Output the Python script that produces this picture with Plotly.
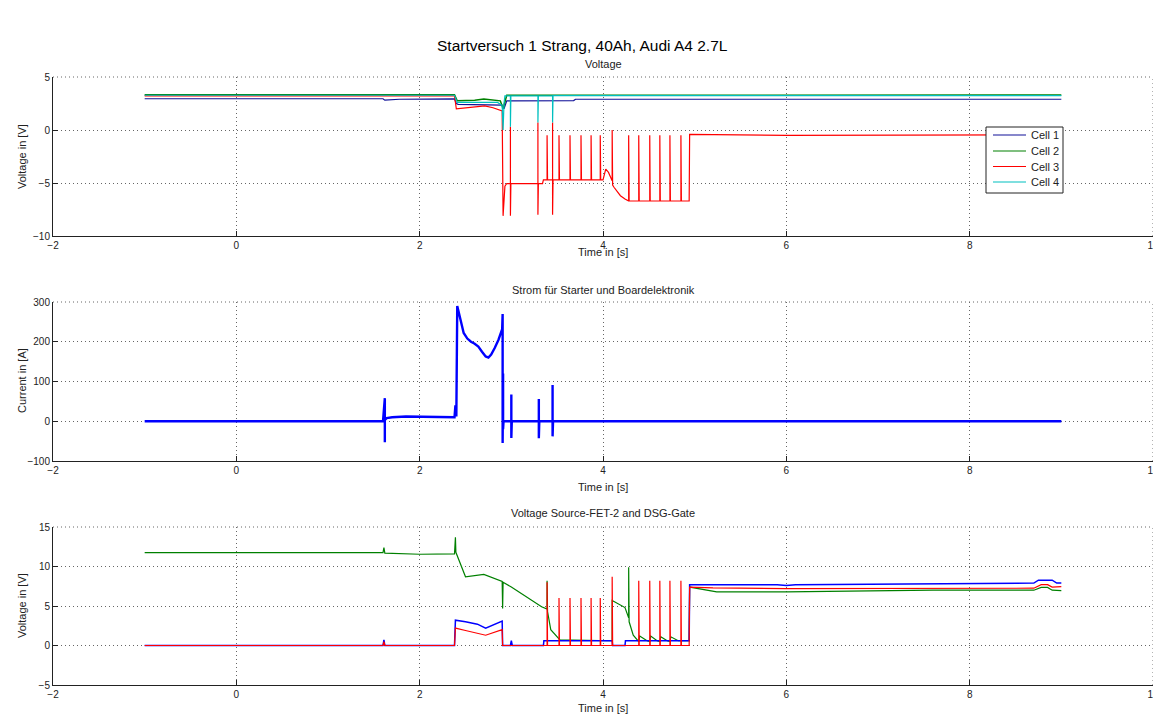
import plotly.graph_objects as go

# ---------------- data: top (Voltage of cells) ----------------
t_cell1 = [-1.0, 1.60, 1.62, 1.78, 2.38, 2.40, 2.42, 2.70, 2.90, 2.92, 2.95, 3.68, 3.70, 9.0]
v_cell1 = [2.95, 2.95, 2.82, 2.90, 2.93, 2.50, 2.42, 2.40, 2.35, 2.00, 2.75, 2.78, 2.90, 2.90]

t_cell2 = [-1.0, 2.38, 2.41, 2.60, 2.70, 2.88, 2.91, 2.95, 9.0]
v_cell2 = [3.33, 3.33, 2.75, 2.80, 2.92, 2.75, 2.00, 3.27, 3.30]

t_cell3 = [-1.0, 2.38, 2.40, 2.55, 2.71, 2.80, 2.90, 2.91, 2.915, 2.93, 2.95,
           2.99, 2.99, 2.99, 2.995, 3.29, 3.29, 3.29, 3.295, 3.34, 3.35,
           3.39, 3.39, 3.395, 3.45, 3.45, 3.45, 3.455, 3.52, 3.52, 3.525,
           3.64, 3.64, 3.645, 3.76, 3.76, 3.765, 3.87, 3.87, 3.875, 3.97, 3.97, 3.975,
           4.00, 4.03, 4.06, 4.10, 4.10, 4.105, 4.12, 4.19, 4.24, 4.28, 4.28, 4.285,
           4.39, 4.39, 4.395, 4.51, 4.51, 4.515, 4.62, 4.62, 4.625, 4.73, 4.73, 4.735,
           4.85, 4.85, 4.855, 4.94, 4.945, 6.0, 9.0]
v_cell3 = [3.22, 3.22, 2.00, 2.10, 2.27, 2.10, 1.80, -8.10, -7.00, -5.30, -5.05,
           -5.05, 0.30, -8.10, -5.05, -5.05, 0.70, -8.00, -5.05, -5.05, -4.70,
           -4.70, -0.50, -4.70, -4.70, 0.70, -8.00, -4.70, -4.70, -0.50, -4.70,
           -4.70, -0.50, -4.70, -4.70, -0.50, -4.70, -4.70, -0.50, -4.70, -4.70, -0.50, -4.70,
           -4.70, -3.70, -4.00, -4.80, 0.00, -5.20, -5.40, -6.20, -6.50, -6.70, -0.50, -6.70,
           -6.70, -0.50, -6.70, -6.70, -0.50, -6.70, -6.70, -0.50, -6.70, -6.70, -0.50, -6.70,
           -6.70, -0.50, -6.70, -6.70, -0.42, -0.50, -0.45]

t_cell4 = [-1.0, 2.38, 2.41, 2.85, 2.90, 2.91, 2.92, 2.93, 2.99, 2.99, 2.995,
           3.29, 3.29, 3.295, 3.45, 3.45, 3.455, 9.0]
v_cell4 = [3.28, 3.28, 2.60, 2.60, 2.30, 0.00, 2.50, 3.22, 3.22, 0.30, 3.22,
           3.22, 0.70, 3.22, 3.22, 0.70, 3.24, 3.24]

# ---------------- data: middle (current) ----------------
t_curr = [-1.0, 1.60, 1.62, 1.62, 1.62, 1.64, 1.70, 1.85, 2.38, 2.39, 2.40, 2.41,
          2.42, 2.44, 2.46, 2.48, 2.52, 2.56, 2.60, 2.64, 2.68, 2.72, 2.75, 2.78,
          2.82, 2.86, 2.90, 2.905, 2.905, 2.91, 2.91,
          2.915, 3.00, 3.00, 3.00, 3.005, 3.30, 3.30, 3.30, 3.305, 3.45, 3.45, 3.45,
          3.455, 9.0]
i_curr = [0, 0, 58, -53, 3, 8, 10, 12, 10, 40, 12, 290,
          280, 255, 235, 222, 208, 200, 195, 188, 175, 163, 160, 168,
          185, 205, 232, 270, -55, 120, -20,
          0, 0, 67, -42, 0, 0, 56, -43, 0, 0, 91, -38,
          0, 0]

# ---------------- data: bottom (Source-FET-2 / DSG-Gate) ----------------
t_green = [-1.0, 1.60, 1.61, 1.62, 2.00, 2.38, 2.39, 2.395, 2.50, 2.70, 2.90, 2.905,
           2.91, 3.00, 3.33, 3.39, 3.39, 3.395, 3.43, 3.53, 4.10, 4.10, 4.24, 4.28,
           4.28, 4.285, 4.33, 4.39, 4.40, 4.48, 4.51, 4.52, 4.59, 4.62, 4.63, 4.70,
           4.73, 4.74, 4.82, 4.94, 4.945, 5.24, 6.0, 7.6, 8.7, 8.78, 8.85, 8.9, 9.0]
v_green = [11.75, 11.75, 12.4, 11.7, 11.55, 11.6, 13.7, 11.8, 8.7, 9.0, 8.1, 4.7,
           8.0, 7.4, 4.9, 4.6, 8.2, 4.3, 2.0, 0.7, 0.6, 5.7, 4.8, 3.5,
           9.9, 3.0, 1.3, 0.5, 1.2, 0.6, 0.5, 1.2, 0.6, 0.5, 1.1, 0.6,
           0.5, 1.1, 0.6, 0.6, 7.4, 6.8, 6.8, 7.0, 7.0, 7.35, 7.35, 7.0, 6.95]

t_blue = [-1.0, 1.60, 1.61, 1.62, 2.38, 2.39, 2.50, 2.63, 2.72, 2.90, 2.905, 2.99,
          3.00, 3.01, 3.35, 3.355, 4.10, 4.105, 4.24, 4.245, 4.94, 4.945, 5.9, 6.0,
          6.1, 7.5, 8.7, 8.75, 8.9, 8.95, 9.0]
v_blue = [0, 0, 0.7, 0, 0, 3.2, 3.0, 2.7, 2.2, 3.1, 0, 0,
          0.6, 0, 0, 0.6, 0.6, 0, 0, 0.6, 0.6, 7.7, 7.7, 7.6,
          7.7, 7.85, 7.9, 8.27, 8.27, 7.9, 7.9]

t_red = [-1.0, 1.60, 1.61, 1.62, 2.38, 2.39, 2.50, 2.72, 2.90, 2.905,
         3.39, 3.39, 3.395, 3.52, 3.52, 3.525, 3.64, 3.64, 3.645, 3.76, 3.76, 3.765,
         3.87, 3.87, 3.875, 3.97, 3.97, 3.975, 4.10, 4.10, 4.105,
         4.39, 4.39, 4.395, 4.51, 4.51, 4.515, 4.62, 4.62, 4.625, 4.73, 4.73, 4.735,
         4.85, 4.85, 4.855, 4.94, 4.945, 5.2, 6.0, 8.7, 8.78, 8.85, 8.9, 9.0]
v_red = [0, 0, 0.5, 0, 0, 2.2, 1.9, 1.3, 2.0, 0,
         0, 8.0, 0, 0, 6.0, 0, 0, 6.0, 0, 0, 6.0, 0,
         0, 6.0, 0, 0, 6.0, 0, 0, 8.7, 0,
         0, 8.2, 0, 0, 8.2, 0, 0, 8.2, 0, 0, 8.2, 0,
         0, 8.2, 0, 0, 7.4, 7.3, 7.2, 7.25, 7.7, 7.7, 7.4, 7.45]

fig_title = "Startversuch 1 Strang, 40Ah, Audi A4 2.7L"
sub_titles = ["Voltage", "Strom für Starter und Boardelektronik", "Voltage Source-FET-2 and DSG-Gate"]
y_titles = ["Voltage in [V]", "Current in [A]", "Voltage in [V]"]
x_title = "Time in [s]"
legend_names = ["Cell 1", "Cell 2", "Cell 3", "Cell 4"]
x_ticks = [-2, 0, 2, 4, 6, 8, 10]
y_ticks_top = [-10, -5, 0, 5]
y_ticks_mid = [-100, 0, 100, 200, 300]
y_ticks_bot = [-5, 0, 5, 10, 15]

# ---------------- figure ----------------
FONT = "Liberation Sans, Arial, Helvetica, sans-serif"
OFF = 8                     # page body margin of the html page
W, H = 1161 - OFF, 715 - OFF
ML = 53 - OFF
MR = W - (1153 - OFF)
PW = W - ML - MR
DOT = "1px,3px"
GRIDC = "#666"
AXC = "#222"

def py(px):
    return 1 - (px - OFF) / H

def pxx(px):
    return (px - OFF - ML) / PW

fig = go.Figure()

C_BLUE_T = "#101098"
C_BLUE = "#0000ff"
C_GREEN = "#008000"
C_RED = "#ff0000"
C_CYAN = "#00bfbf"
cell_colors = [C_BLUE_T, C_GREEN, C_RED, C_CYAN]

fig.add_trace(go.Scatter(x=t_cell1, y=v_cell1, mode="lines", name=legend_names[0],
                         line=dict(color=C_BLUE_T, width=1.2), xaxis="x", yaxis="y"))
fig.add_trace(go.Scatter(x=t_cell2, y=v_cell2, mode="lines", name=legend_names[1],
                         line=dict(color=C_GREEN, width=1.5), xaxis="x", yaxis="y"))
fig.add_trace(go.Scatter(x=t_cell3, y=v_cell3, mode="lines", name=legend_names[2],
                         line=dict(color=C_RED, width=1.2), xaxis="x", yaxis="y"))
fig.add_trace(go.Scatter(x=t_cell4, y=v_cell4, mode="lines", name=legend_names[3],
                         line=dict(color=C_CYAN, width=1.2), xaxis="x", yaxis="y"))

fig.add_trace(go.Scatter(x=t_curr, y=i_curr, mode="lines",
                         line=dict(color=C_BLUE, width=2.4), xaxis="x2", yaxis="y2"))

fig.add_trace(go.Scatter(x=t_green, y=v_green, mode="lines",
                         line=dict(color=C_GREEN, width=1.2), xaxis="x3", yaxis="y3"))
fig.add_trace(go.Scatter(x=t_blue, y=v_blue, mode="lines",
                         line=dict(color=C_BLUE, width=1.5), xaxis="x3", yaxis="y3"))
fig.add_trace(go.Scatter(x=t_red, y=v_red, mode="lines",
                         line=dict(color=C_RED, width=1.2), xaxis="x3", yaxis="y3"))

tickfont = dict(family=FONT, size=10, color=AXC)

def xax(anchor):
    return dict(domain=[0, 1], range=[-2, 10], tickvals=x_ticks, anchor=anchor,
                ticks="inside", ticklen=5, tickcolor=AXC, showline=True,
                linecolor=AXC, linewidth=1, showgrid=True, griddash=DOT,
                gridcolor=GRIDC, gridwidth=1, zeroline=False, tickfont=tickfont,
                automargin=False, ticklabeloverflow="allow")

def yax(dom, rng, tv, anchor):
    return dict(domain=dom, range=rng, tickvals=tv, anchor=anchor,
                ticks="inside", ticklen=5, tickcolor=AXC, showline=True,
                linecolor=AXC, linewidth=1, showgrid=True, griddash=DOT,
                gridcolor=GRIDC, gridwidth=1, zeroline=False, tickfont=tickfont,
                automargin=False, ticklabeloverflow="allow")

boxes = [(77, 236), (302, 461), (527, 685)]
dom_top = [py(236), py(77)]
dom_mid = [py(461), py(302)]
dom_bot = [py(685), py(527)]

fig.update_layout(
    width=W, height=H,
    margin=dict(l=ML, r=MR, t=0, b=0),
    paper_bgcolor="white", plot_bgcolor="white",
    font=dict(family=FONT, size=10, color=AXC),
    xaxis=xax("y"), yaxis=yax(dom_top, [-10, 5], y_ticks_top, "x"),
    xaxis2=xax("y2"), yaxis2=yax(dom_mid, [-100, 300], y_ticks_mid, "x2"),
    xaxis3=xax("y3"), yaxis3=yax(dom_bot, [-5, 15], y_ticks_bot, "x3"),
    showlegend=False,
)

shapes = []
# dotted top and right frame edges (MATLAB grid at range limits)
for top, bot in boxes:
    shapes.append(dict(type="line", xref="paper", yref="paper", x0=0, x1=1,
                       y0=py(top), y1=py(top), line=dict(color=GRIDC, width=1, dash=DOT)))
    shapes.append(dict(type="line", xref="paper", yref="paper", x0=1, x1=1,
                       y0=py(bot), y1=py(top), line=dict(color=GRIDC, width=1, dash=DOT)))

# legend box of the top axes (MATLAB style)
LX0, LX1, LY0, LY1 = 986, 1063, 127, 193
shapes.append(dict(type="rect", xref="paper", yref="paper",
                   x0=pxx(LX0), x1=pxx(LX1), y0=py(LY1), y1=py(LY0),
                   line=dict(color=AXC, width=1), fillcolor="white", layer="above"))
ann = []
row_y = [135, 151, 166.5, 182]
for name, col, ry in zip(legend_names, cell_colors, row_y):
    shapes.append(dict(type="line", xref="paper", yref="paper",
                       x0=pxx(993), x1=pxx(1026), y0=py(ry), y1=py(ry),
                       line=dict(color=col, width=1.2), layer="above"))
    ann.append(dict(text=name, x=pxx(1029), y=py(ry), xref="paper", yref="paper",
                    showarrow=False, xanchor="left", yanchor="middle",
                    font=dict(family=FONT, size=11, color=AXC)))
fig.update_layout(shapes=shapes)

ann.append(dict(text=fig_title, x=pxx(582), y=py(45), xref="paper", yref="paper",
                showarrow=False, xanchor="center", yanchor="middle",
                font=dict(family=FONT, size=15.5, color="black")))
for txt, ypix in zip(sub_titles, [64, 290, 513]):
    ann.append(dict(text=txt, x=0.5, y=py(ypix), xref="paper", yref="paper",
                    showarrow=False, xanchor="center", yanchor="middle",
                    font=dict(family=FONT, size=11, color=AXC)))
for ypix in [252, 487, 708]:
    ann.append(dict(text=x_title, x=0.5, y=py(ypix), xref="paper", yref="paper",
                    showarrow=False, xanchor="center", yanchor="middle",
                    font=dict(family=FONT, size=11, color=AXC)))
for txt, ypix in zip(y_titles, [157, 381, 606]):
    ann.append(dict(text=txt, x=pxx(22), y=py(ypix), xref="paper", yref="paper",
                    showarrow=False, xanchor="center", yanchor="middle", textangle=-90,
                    font=dict(family=FONT, size=11, color=AXC)))
fig.update_layout(annotations=ann)

fig.write_html("out.html")
